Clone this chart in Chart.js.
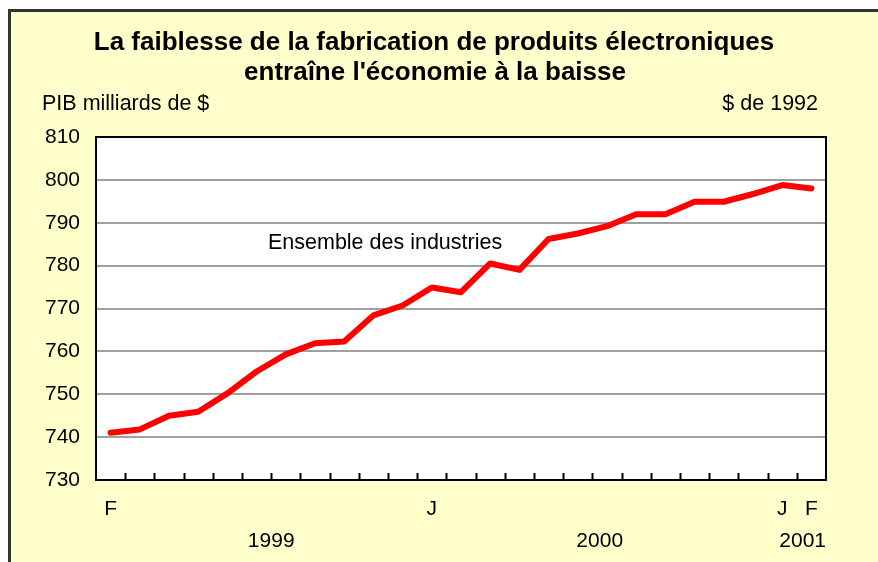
<!DOCTYPE html>
<html>
<head>
<meta charset="utf-8">
<script src="https://cdn.jsdelivr.net/npm/chart.js@4"></script>
<style>
  html, body { margin: 0; padding: 0; background: #fff; }
  #wrap { width: 878px; height: 562px; }
</style>
</head>
<body>
<div id="wrap"><canvas id="chart" width="878" height="562"></canvas></div>
<script>
// months from Feb 1999 to Feb 2001
const months = ['F','M','A','M','J','J','A','S','O','N','D',
                'J','F','M','A','M','J','J','A','S','O','N','D',
                'J','F'];
const shownMonths = [0, 11, 23, 24];
// PIB, milliards de $ de 1992
const gdp = [741.0, 741.8, 745.0, 745.9, 750.2, 755.3, 759.3, 761.9, 762.3, 768.4,
             770.7, 774.9, 773.8, 780.5, 779.0, 786.2, 787.5, 789.2, 792.0, 792.0,
             794.9, 794.9, 796.7, 798.8, 798.0];
const years = ['1999', '2000', '2001'];
const yearPos = [5.5, 16.75, 23.7];
const yTicks = [730, 740, 750, 760, 770, 780, 790, 800, 810];

const FONT = '"Liberation Sans", Arial, sans-serif';

const decor = {
  id: 'decor',
  beforeDraw(chart) {
    const ctx = chart.ctx;
    const a = chart.chartArea;
    ctx.save();
    ctx.fillStyle = '#ffffff';
    ctx.fillRect(0, 0, chart.width, chart.height);
    ctx.fillStyle = '#ffffcc';
    ctx.fillRect(9, 10, chart.width, chart.height);
    ctx.strokeStyle = '#333333';
    ctx.lineWidth = 3;
    ctx.beginPath();
    ctx.moveTo(9.5, chart.height + 5);
    ctx.lineTo(9.5, 10.5);
    ctx.lineTo(chart.width + 5, 10.5);
    ctx.stroke();
    ctx.fillStyle = '#ffffff';
    ctx.fillRect(a.left, a.top, a.right - a.left, a.bottom - a.top);
    ctx.restore();
  },
  afterDraw(chart) {
    const ctx = chart.ctx;
    const a = chart.chartArea;
    const x = chart.scales.x;
    const y = chart.scales.y;
    ctx.save();
    // frame of plot area
    ctx.strokeStyle = '#000';
    ctx.lineWidth = 2;
    ctx.strokeRect(a.left, a.top, a.right - a.left, a.bottom - a.top);
    // inward tick marks between months
    ctx.lineWidth = 2;
    ctx.beginPath();
    for (let i = 1; i < months.length; i++) {
      const px = Math.round((x.getPixelForValue(i - 1) + x.getPixelForValue(i)) / 2) + 0.5;
      ctx.moveTo(px, a.bottom);
      ctx.lineTo(px, a.bottom - 7);
    }
    ctx.stroke();

    ctx.fillStyle = '#000';
    // title
    ctx.font = 'bold 26px ' + FONT;
    ctx.textAlign = 'center';
    ctx.textBaseline = 'middle';
    ctx.fillText('La faiblesse de la fabrication de produits électroniques', 434, 43);
    ctx.fillText("entraîne l'économie à la baisse", 435, 73);
    // units
    ctx.font = '21.5px ' + FONT;
    ctx.textAlign = 'left';
    ctx.fillText('PIB milliards de $', 42, 104);
    ctx.textAlign = 'right';
    ctx.fillText('$ de 1992', 818, 104);
    // series label
    ctx.textAlign = 'center';
    ctx.fillText('Ensemble des industries', x.getPixelForValue(9.4), y.getPixelForValue(785.3));
    // years
    ctx.font = '21px ' + FONT;
    years.forEach((yr, i) => {
      ctx.fillText(yr, x.getPixelForValue(yearPos[i]), 541);
    });
    ctx.restore();
  }
};

new Chart(document.getElementById('chart'), {
  type: 'line',
  data: {
    labels: months,
    datasets: [{
      label: 'Ensemble des industries',
      data: gdp,
      borderColor: '#ff0000',
      borderWidth: 6,
      pointRadius: 0,
      tension: 0,
      borderCapStyle: 'round',
      borderJoinStyle: 'round'
    }]
  },
  options: {
    responsive: false,
    animation: false,
    layout: { padding: { top: 137, right: 52, left: 0, bottom: 0 } },
    plugins: {
      legend: { display: false },
      tooltip: { enabled: false },
      title: { display: false }
    },
    scales: {
      x: {
        type: 'category',
        offset: true,
        afterFit(scale) { scale.height = 82; },
        grid: { display: false },
        border: { display: false },
        ticks: {
          autoSkip: false,
          maxRotation: 0,
          padding: 9,
          color: '#000',
          font: { family: FONT, size: 21 },
          callback: (v, i) => shownMonths.includes(i) ? months[i] : ''
        }
      },
      y: {
        min: 730,
        max: 810,
        afterFit(scale) { scale.width = 96; },
        afterBuildTicks(scale) { scale.ticks = yTicks.map(v => ({ value: v })); },
        grid: { color: '#a0a0a0', lineWidth: 2, drawTicks: false },
        border: { display: false },
        ticks: {
          padding: 16,
          color: '#000',
          font: { family: FONT, size: 21 }
        }
      }
    }
  },
  plugins: [decor]
});
</script>
</body>
</html>
